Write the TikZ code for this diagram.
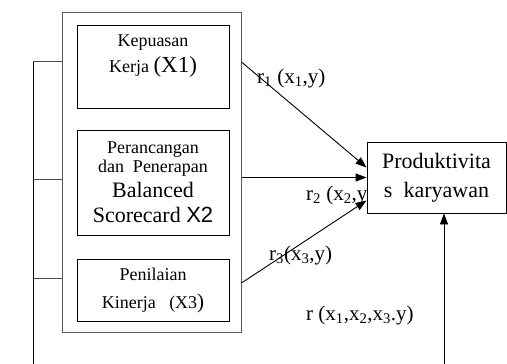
\documentclass[tikz,border=0pt]{standalone}
\usepackage{fontspec}
\setmainfont{Liberation Serif}
\newfontfamily\timesfont{Liberation Serif}
\newfontfamily\arialfont{Liberation Sans}
\usetikzlibrary{arrows.meta}
\newcommand{\fs}[1]{\timesfont\fontsize{#1}{#1}\selectfont}
\tikzset{
	box/.style={draw, line width=0.9pt, minimum width=152pt, inner sep=0pt, align=center, font=\fs{18}},
	link/.style={line width=0.9pt, -{Triangle[length=11pt,width=8pt]}},
	coef/.style={anchor=west, inner sep=0pt, font=\fs{21}},
}

\begin{document}
\begin{tikzpicture}[x=1pt, y=-1pt]
		%%%%% START %%%%%
		\useasboundingbox (0, 0) rectangle (507, 364);
		
		\node[draw=black!65, line width=1pt, minimum width=179pt, minimum height=320pt] (frame) at (151.5, 172) {};
		
		\node[box, minimum height=83pt] (kepuasan) at (153, 66.5) {};
		\node[align=center, font=\fs{18}] (tkepuasan) at (153, 56) {Kepuasan\\[5pt] Kerja {\fs{23}(X1)}};
		
		\node[box, minimum height=105pt] (rancang) at (153, 182.5) {Perancangan\\[1pt] dan~~Penerapan\\[5pt] {\fs{22}Balanced}\\[7pt] {\fs{22}Scorecard {\arialfont X2}}};
		
		\node[box, minimum height=62pt] (penilaian) at (153, 290) {Penilaian\\[10pt] Kinerja~~~(X3{\fs{21})}};
		
		% bracket on the left
		\coordinate (b1) at (33, 61);
		\coordinate (b2) at (33, 179);
		\coordinate (b3) at (33, 278);
		\coordinate (bend) at (33, 364);
		\draw[line width=1pt] (b1) -- (bend);
		\draw[line width=0.8pt, black!70] (b1) -- (b1 -| frame.west);
		\draw[line width=0.8pt, black!70] (b2) -- (b2 -| frame.west);
		\draw[line width=0.8pt, black!70] (b3) -- (b3 -| frame.west);
		
		\node[coef] (r1) at (257, 78) {r\textsubscript{1} (x\textsubscript{1},y)};
		\node[coef] (r2) at (306, 195) {r\textsubscript{2} (x\textsubscript{2},y)};
		\node[coef] (r3) at (269, 255) {r\textsubscript{3}(x\textsubscript{3},y)};
		\node[coef] (r) at (306, 315) {r (x\textsubscript{1},x\textsubscript{2},x\textsubscript{3}.y)};
		
		\node[draw, fill=white, line width=0.9pt, minimum width=139pt, minimum height=71pt, align=center, font=\fs{22}] (produk) at (436.5, 177.5) {Produktivita\\[7pt] s~~karyawan};
		
		\coordinate (s1) at (frame.east |- 0, 62);
		\coordinate (s2) at (frame.east |- produk.west);
		\coordinate (s3) at (frame.east |- 0, 283);
		\coordinate (base) at (444, 364);
		\draw[link] (s1) -- ([yshift=10pt]produk.west);
		\draw[link] (s2) -- (produk.west);
		\draw[link] (s3) -- ([yshift=-23pt]produk.west);
		\draw[link] (base) -- (base |- produk.south);
		
		%%%%% END %%%%%
\end{tikzpicture}
\end{document}
